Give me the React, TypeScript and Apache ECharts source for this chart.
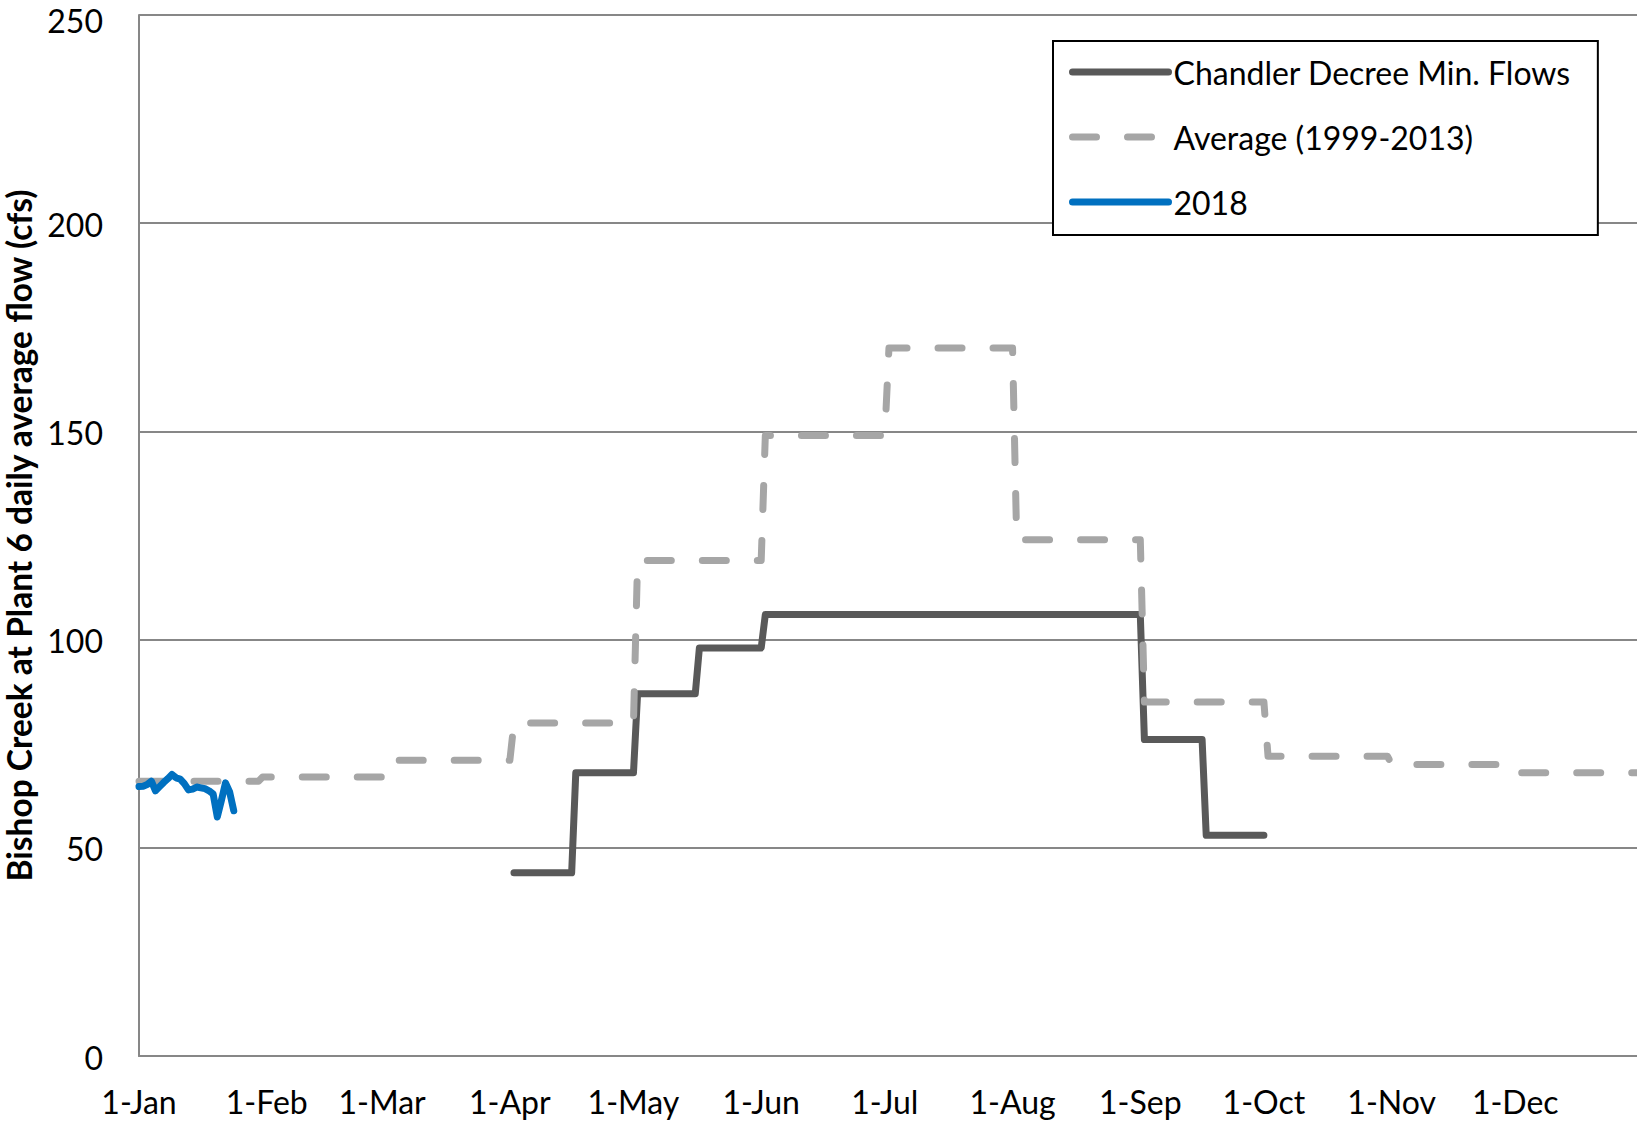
import React, { useEffect, useRef } from "react";
import * as echarts from "echarts";

// Day-of-year positions of month starts and their labels
const monthDays = [0, 31, 59, 90, 120, 151, 181, 212, 243, 273, 304, 334];
const monthLabels = ["1-Jan", "1-Feb", "1-Mar", "1-Apr", "1-May", "1-Jun", "1-Jul", "1-Aug", "1-Sep", "1-Oct", "1-Nov", "1-Dec"];

// Chandler Decree minimum flows: [day, cfs]
const chandlerData = [
  [91, 44], [105, 44], [106, 68], [120, 68], [121, 87], [135, 87], [136, 98], [151, 98],
  [152, 106], [243, 106], [244, 76], [258, 76], [259, 53], [273, 53],
];

// Average (1999-2013): [day, cfs]
const averageData = [
  [0, 66], [29, 66], [30, 67], [59, 67], [60, 71], [90, 71], [91, 80], [120, 80],
  [121, 119], [151, 119], [152, 149], [181, 149], [182, 170], [212, 170], [213, 124],
  [243, 124], [244, 85], [273, 85], [274, 72], [303, 72], [304, 70], [333, 70], [334, 68], [365, 68],
];

// 2018 daily flows, day 0 onward
const flow2018 = [
  64.7, 64.8, 65.2, 66.0, 63.7, 64.7, 65.7, 66.6, 67.6, 66.8, 66.5, 65.4, 63.9, 64.1,
  64.6, 64.4, 64.2, 63.7, 62.9, 57.4, 61.4, 65.6, 63.4, 58.9,
];

const yTicks = [0, 50, 100, 150, 200, 250];

const FONT = "Lato";

export default function App() {
  const ref = useRef<HTMLDivElement>(null);

  useEffect(() => {
    if (!ref.current) return;
    const chart = echarts.init(ref.current, undefined, { renderer: "svg" });
    const data2018 = flow2018.map((v, i) => [i, v]);
    const topTick = yTicks[yTicks.length - 1];
    chart.setOption({
      animation: false,
      backgroundColor: "#ffffff",
      grid: { left: 139, top: 15, width: 1504, height: 1041, outerBoundsMode: "none", containLabel: false },
      legend: {
        orient: "vertical",
        left: 1053,
        top: 41,
        padding: [13, 27, 15, 16],
        itemWidth: 96,
        itemHeight: 14,
        itemGap: 29,
        borderColor: "#000",
        borderWidth: 2,
        backgroundColor: "#fff",
        itemStyle: { opacity: 0, borderWidth: 0 },
        lineStyle: { width: 7, cap: "round" },
        textStyle: { fontFamily: FONT, fontSize: 32, color: "#000", lineHeight: 36 },
        data: ["Chandler Decree Min. Flows", "Average (1999-2013)", "2018"],
      },
      xAxis: {
        type: "value",
        min: 0,
        max: 365,
        axisLine: { show: true, lineStyle: { color: "#878787", width: 2 } },
        axisTick: { show: false },
        splitLine: { show: false },
        axisLabel: {
          customValues: monthDays,
          formatter: (v: number) => monthLabels[monthDays.indexOf(v)] ?? "",
          fontFamily: FONT,
          fontSize: 32,
          color: "#000",
          margin: 29,
        },
      },
      yAxis: {
        type: "value",
        min: 0,
        max: 250,
        interval: 50,
        name: "Bishop Creek at Plant 6 daily average flow (cfs)",
        nameLocation: "middle",
        nameGap: 118,
        nameTextStyle: {
          fontFamily: FONT,
          fontSize: 33.5,
          fontWeight: "bold",
          color: "#000",
          lineHeight: 30,
          verticalAlign: "middle",
        },
        axisLine: { show: true, lineStyle: { color: "#878787", width: 2 } },
        axisTick: { show: false },
        splitLine: { show: true, lineStyle: { color: "#878787", width: 2 } },
        axisLabel: {
          fontFamily: FONT,
          fontSize: 32,
          lineHeight: 26,
          padding: [2, 0, 0, 0],
          color: "#000",
          margin: 36,
          formatter: (v: number) =>
            v === topTick ? `{t|${v}}` : yTicks.includes(v) ? String(v) : "",
          rich: {
            t: { fontFamily: FONT, fontSize: 32, lineHeight: 26, color: "#000", padding: [8, 0, 0, 0] },
          },
        },
      },
      series: [
        {
          name: "Chandler Decree Min. Flows",
          type: "line",
          data: chandlerData,
          symbol: "circle",
          showSymbol: false,
          lineStyle: { color: "#595959", width: 7, cap: "round", join: "round" },
          itemStyle: { color: "#595959" },
        },
        {
          name: "Average (1999-2013)",
          type: "line",
          data: averageData,
          symbol: "circle",
          showSymbol: false,
          lineStyle: { color: "#A6A6A6", width: 7, type: [24, 31], cap: "round", join: "round" },
          itemStyle: { color: "#A6A6A6" },
        },
        {
          name: "2018",
          type: "line",
          data: data2018,
          symbol: "circle",
          showSymbol: false,
          lineStyle: { color: "#0070C0", width: 7, cap: "round", join: "round" },
          itemStyle: { color: "#0070C0" },
        },
      ],
    });
    return () => chart.dispose();
  }, []);

  return (
    <div style={{ position: "fixed", left: 0, top: 0, width: 1637, height: 1123, overflow: "hidden", background: "#fff" }}>
      <div ref={ref} style={{ width: 1660, height: 1123 }} />
    </div>
  );
}
